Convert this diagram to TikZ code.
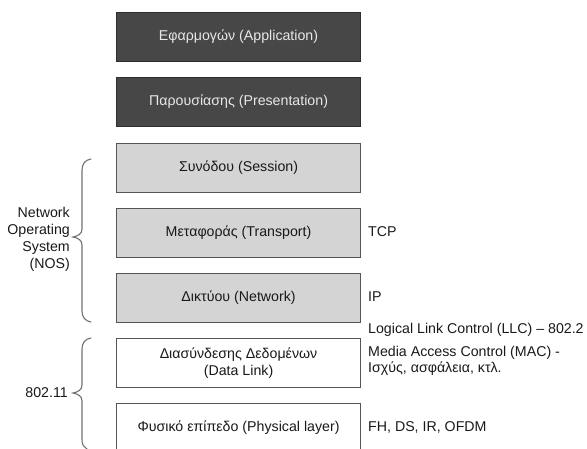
\documentclass[tikz,border=0pt]{standalone}
\usepackage{fontspec}
\setmainfont{Liberation Sans}
\begin{document}
\begin{tikzpicture}[x=1pt,y=-1pt,
  txt/.style={font=\fontsize{14.2}{17}\selectfont},
  layer/.style={draw, line width=1.1pt, minimum width=244pt, minimum height=49pt,
    inner sep=0pt, align=center, txt, anchor=north west},
  darklayer/.style={layer, fill=layerdark, draw=layerdarkedge, text=layertext},
  greylayer/.style={layer, fill=layergrey, draw=layeredge, text=black!90},
  whitelayer/.style={layer, fill=white, draw=layeredge, text=black!90},
  note/.style={anchor=west, inner sep=0pt, txt, text=black!90, align=left},
  bracket/.style={draw=bracecol, line width=1.1pt, line cap=round}]
\definecolor{layerdark}{HTML}{474747}
\definecolor{layerdarkedge}{HTML}{2E2E2E}
\definecolor{layertext}{HTML}{E8E8E8}
\definecolor{layergrey}{HTML}{D4D4D4}
\definecolor{layeredge}{HTML}{555555}
\definecolor{bracecol}{HTML}{707070}
\useasboundingbox (0,0) rectangle (587,449);
\clip (0,0) rectangle (587,449);

% OSI layers, top to bottom
\node[darklayer]  (app)  at (116,12)  {Εφαρμογών (Application)};
\node[darklayer]  (pres) at (116,77)  {Παρουσίασης (Presentation)};
\node[greylayer]  (sess) at (116,143) {Συνόδου (Session)};
\node[greylayer]  (trans) at (116,208) {Μεταφοράς (Transport)};
\node[greylayer]  (net)  at (116,273) {Δικτύου (Network)};
\node[whitelayer] (dl)   at (116,338) {Διασύνδεσης Δεδομένων\\(Data Link)};
\node[whitelayer] (phy)  at (116,403) {Φυσικό επίπεδο (Physical layer)};

% protocols beside the layers
\node[note] (tcp) at (368,232) {TCP};
\node[note] (ip)  at (368,297) {IP};
\node[note] (llc) at (368,330) {Logical Link Control (LLC) – 802.2};
\node[note, font=\fontsize{14.2}{16}\selectfont] (mac) at (368,361) {Media Access Control (MAC) -\\Ισχύς, ασφάλεια, κτλ.};
\node[note] (phyp) at (368,427) {FH, DS, IR, OFDM};

% braces grouping the layers
\draw[bracket] (91,159) .. controls (85,160) and (82,164) .. (82,170) -- (82,229)
  .. controls (82,234) and (78,236) .. (73,237)
  .. controls (78,238) and (82,240) .. (82,245) -- (82,311)
  .. controls (82,317) and (85,321) .. (91,322);
\draw[bracket] (91,338) .. controls (85,339) and (82,343) .. (82,349) -- (82,385)
  .. controls (82,390) and (78,392) .. (73,393)
  .. controls (78,394) and (82,396) .. (82,401) -- (82,440)
  .. controls (82,445) and (84,447) .. (87,449);

% group names
\node[anchor=east, inner sep=0pt, align=right, txt, text=black!90] (nos) at (70,239)
  {Network\\Operating\\System\\(NOS)};
\node[anchor=east, inner sep=0pt, txt, text=black!90] (wlan) at (68,393) {802.11};
\end{tikzpicture}
\end{document}
